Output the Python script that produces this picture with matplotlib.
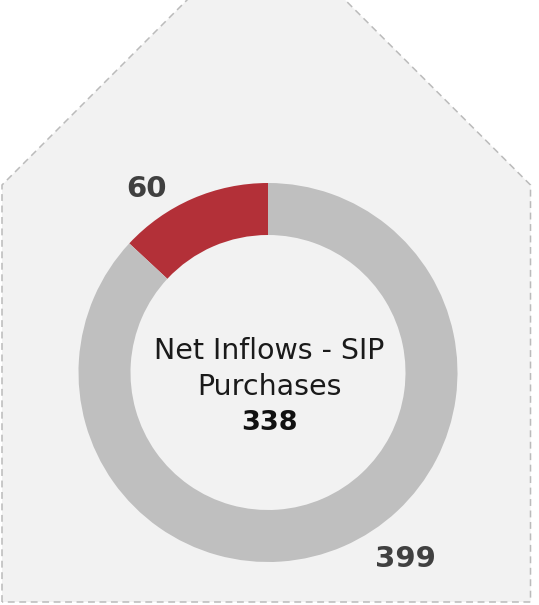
import matplotlib
matplotlib.use("Agg")
import matplotlib.pyplot as plt
from matplotlib.patches import Polygon

# Chart data
segment_labels = ["Net Inflows", "SIP Purchases"]
segment_values = [60, 399]
center_title_lines = ["Net Inflows - SIP", "Purchases"]
center_value = "338"

segment_colors = ["#B33038", "#BFBFBF"]
label_color = "#404040"

W, H = 539, 605
fig = plt.figure(figsize=(W / 100, H / 100), dpi=100)
ax = fig.add_axes([0, 0, 1, 1])
ax.set_xlim(0, W)
ax.set_ylim(0, H)
ax.axis("off")

def py(y):
    # convert a top-down pixel row into axis units
    return H - y

# House-shaped card behind the donut
house = Polygon(
    [(2, py(602)), (2, py(185)), (266, py(-79)), (530.5, py(185)), (530.5, py(602))],
    closed=True, facecolor="#F2F2F2", edgecolor="#BBBBBB",
    linewidth=1.1, linestyle=(0, (4.5, 3)),
)
ax.add_patch(house)

cx, cy = 268, py(372.5)
R, ring = 189.5, 52
ax.pie(
    segment_values, colors=segment_colors, startangle=90, counterclock=True,
    radius=R, center=(cx, cy),
    wedgeprops=dict(width=ring, edgecolor="none", linewidth=0),
)
ax.set_xlim(0, W)
ax.set_ylim(0, H)
ax.set_aspect("equal", adjustable="box")

font = "DejaVu Sans"
for row, line in zip([351, 387], center_title_lines):
    ax.text(cx + 1, py(row), line, ha="center", va="center", fontsize=20.5,
            family=font, fontweight="normal", color="#1A1A1A")
ax.text(cx + 1, py(423), center_value, ha="center", va="center", fontsize=19.5,
        family=font, fontweight="bold", color="#111111")

ax.text(146, py(189), str(segment_values[0]), ha="center", va="center",
        fontsize=21, family=font, fontweight="bold", color=label_color)
ax.text(405, py(559), str(segment_values[1]), ha="center", va="center",
        fontsize=21, family=font, fontweight="bold", color=label_color)

fig.savefig("out.png", dpi=100, facecolor="white")
